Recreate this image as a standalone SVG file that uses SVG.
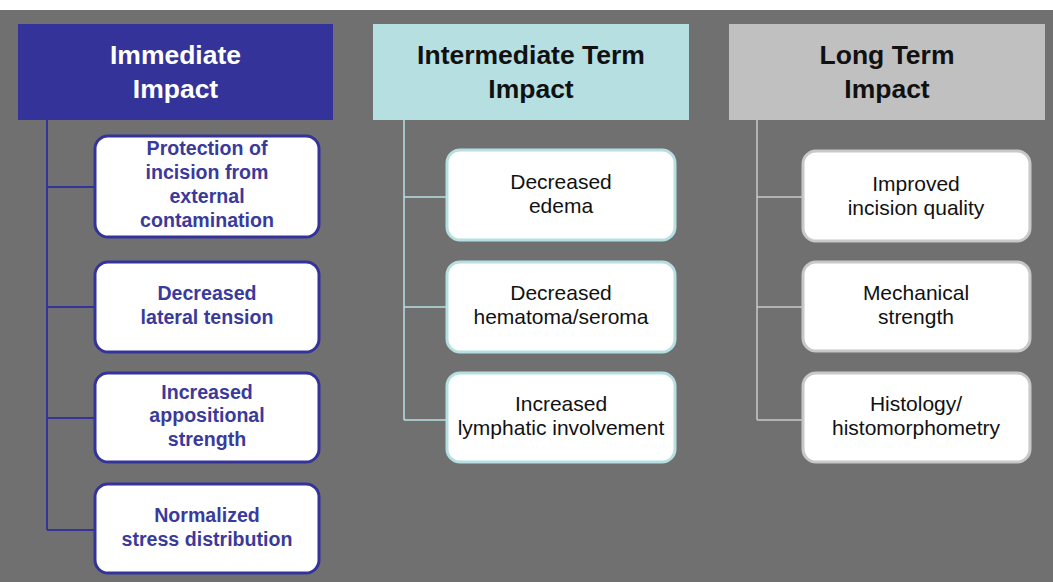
<svg xmlns="http://www.w3.org/2000/svg" width="1053" height="582" viewBox="0 0 1053 582">
<style>
.hd{font-family:"Liberation Sans",Arial,sans-serif;font-weight:bold;font-size:26.5px;text-anchor:middle}
.b1{font-family:"Liberation Sans",Arial,sans-serif;font-weight:bold;font-size:19.6px;text-anchor:middle;fill:#3a3a9c}
.b2{font-family:"Liberation Sans",Arial,sans-serif;font-size:21px;text-anchor:middle;fill:#111}
.n1{fill:#fff;stroke:#333399;stroke-width:3}
.n2{fill:#fff;stroke:#b6dfe1;stroke-width:3}
.n3{fill:#fff;stroke:#c8c8c8;stroke-width:3}
.c1{stroke:#333399;stroke-width:2;fill:none}
.c2{stroke:#b6dfe1;stroke-width:1.5;fill:none}
.c3{stroke:#c8c8c8;stroke-width:1.5;fill:none}
</style>
<rect x="0" y="0" width="1053" height="582" fill="#fff"/>
<rect x="0" y="10" width="1053" height="572" fill="#707070"/>
<g id="connectors">
<path class="c1" d="M47 120V530M47 187H95M47 307H95M47 418H95M47 530H95"/>
<path class="c2" d="M404 120V420M404 197H447M404 307H447M404 420H447"/>
<path class="c3" d="M757 120V420M757 197H803M757 307H803M757 420H803"/>
</g>
<g id="h1"><rect x="18" y="24" width="315" height="96" fill="#333399"/>
<text class="hd" fill="#fff" x="175.5" y="64">Immediate</text><text class="hd" fill="#fff" x="175.5" y="98">Impact</text></g>
<g id="h2"><rect x="373" y="24" width="316" height="96" fill="#b6dfe1"/>
<text class="hd" fill="#111" x="531" y="64">Intermediate Term</text><text class="hd" fill="#111" x="531" y="98">Impact</text></g>
<g id="h3"><rect x="729" y="24" width="316" height="96" fill="#c0c0c0"/>
<text class="hd" fill="#111" x="887" y="64">Long Term</text><text class="hd" fill="#111" x="887" y="98">Impact</text></g>
<g id="a1"><rect class="n1" x="95" y="136" width="224" height="101" rx="13"/>
<text class="b1" x="207" y="155">Protection of</text><text class="b1" x="207" y="179">incision from</text><text class="b1" x="207" y="203">external</text><text class="b1" x="207" y="227">contamination</text></g>
<g id="a2"><rect class="n1" x="95" y="262" width="224" height="90" rx="13"/>
<text class="b1" x="207" y="300">Decreased</text><text class="b1" x="207" y="324">lateral tension</text></g>
<g id="a3"><rect class="n1" x="95" y="373" width="224" height="89" rx="13"/>
<text class="b1" x="207" y="399">Increased</text><text class="b1" x="207" y="422">appositional</text><text class="b1" x="207" y="446">strength</text></g>
<g id="a4"><rect class="n1" x="95" y="484" width="224" height="89" rx="13"/>
<text class="b1" x="207" y="522">Normalized</text><text class="b1" x="207" y="546">stress distribution</text></g>
<g id="b1"><rect class="n2" x="447" y="150" width="228" height="90" rx="13"/>
<text class="b2" x="561" y="189">Decreased</text><text class="b2" x="561" y="213">edema</text></g>
<g id="b2"><rect class="n2" x="447" y="262" width="228" height="90" rx="13"/>
<text class="b2" x="561" y="300">Decreased</text><text class="b2" x="561" y="324">hematoma/seroma</text></g>
<g id="b3"><rect class="n2" x="447" y="373" width="228" height="89" rx="13"/>
<text class="b2" x="561" y="411">Increased</text><text class="b2" x="561" y="435">lymphatic involvement</text></g>
<g id="c1"><rect class="n3" x="803" y="151" width="227" height="90" rx="13"/>
<text class="b2" x="916" y="191">Improved</text><text class="b2" x="916" y="215">incision quality</text></g>
<g id="c2"><rect class="n3" x="803" y="262" width="227" height="89" rx="13"/>
<text class="b2" x="916" y="300">Mechanical</text><text class="b2" x="916" y="324">strength</text></g>
<g id="c3"><rect class="n3" x="803" y="373" width="227" height="89" rx="13"/>
<text class="b2" x="916" y="411">Histology/</text><text class="b2" x="916" y="435">histomorphometry</text></g>
</svg>
